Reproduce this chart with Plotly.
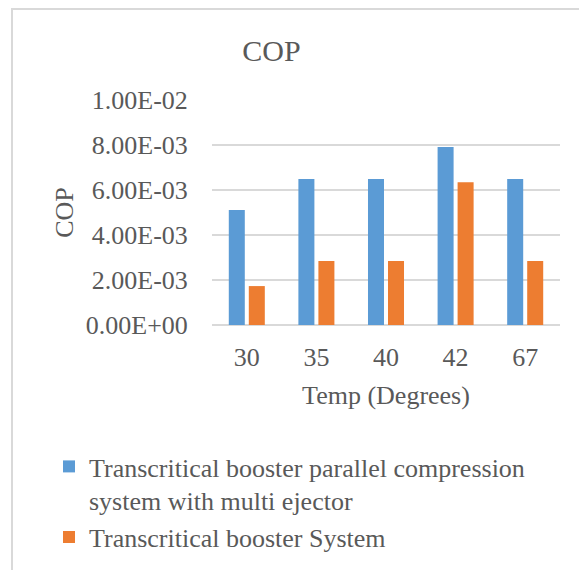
import plotly.graph_objects as go

# Temperatures on the category axis
temps = ["30", "35", "40", "42", "67"]

# COP values for the two refrigeration systems
cop_multi_ejector = [5.11e-3, 6.49e-3, 6.49e-3, 7.91e-3, 6.49e-3]
cop_booster = [1.73e-3, 2.84e-3, 2.84e-3, 6.35e-3, 2.84e-3]

series_names = [
    "Transcritical booster parallel compression<br>system with multi ejector",
    "Transcritical booster System",
]

# Y-axis ticks in engineering-style notation
y_tick_vals = [0, 0.002, 0.004, 0.006, 0.008, 0.010]
y_tick_text = ["0.00E+00", "2.00E-03", "4.00E-03", "6.00E-03", "8.00E-03", "1.00E-02"]

BLUE = "#5B9BD5"
ORANGE = "#ED7D31"
GREY_TEXT = "#595959"
GRID = "#D9D9D9"
FONT = "Liberation Serif"

W, H = 579, 570
L, R, T, B = 212, 19, 100, 245
pw, ph = W - L - R, H - T - B


def px_x(x):
    return (x - L) / pw


def px_y(y):
    return (H - B - y) / ph


fig = go.Figure()
fig.add_trace(go.Bar(x=temps, y=cop_multi_ejector, name=series_names[0],
                     marker=dict(color=BLUE, line=dict(width=0))))
fig.add_trace(go.Bar(x=temps, y=cop_booster, name=series_names[1],
                     marker=dict(color=ORANGE, line=dict(width=0))))

fig.update_layout(
    width=W, height=H,
    margin=dict(l=L, r=R, t=T, b=B, autoexpand=False),
    paper_bgcolor="white", plot_bgcolor="white",
    font=dict(family=FONT, size=26, color=GREY_TEXT),
    barmode="group", bargap=0.425, bargroupgap=0.2,
    title=dict(text="COP", x=271.5 / W, xanchor="center",
               y=1 - 50 / H, yanchor="middle",
               font=dict(family=FONT, size=30, color=GREY_TEXT)),
    showlegend=True,
    legend=dict(x=px_x(49), xanchor="left", y=px_y(443), yanchor="top",
                valign="top", tracegroupgap=4, traceorder="normal",
                font=dict(family=FONT, size=26, color=GREY_TEXT),
                bgcolor="rgba(0,0,0,0)"),
    xaxis=dict(type="category", showgrid=False, zeroline=False,
               showline=False, ticks="outside", ticklen=9,
               tickcolor="rgba(0,0,0,0)",
               title=dict(text="Temp (Degrees)", standoff=14,
                          font=dict(family=FONT, size=26, color=GREY_TEXT))),
    yaxis=dict(range=[0, 0.010], tickvals=y_tick_vals, ticktext=y_tick_text,
               showgrid=True, gridcolor=GRID, gridwidth=1.8,
               zeroline=True, zerolinecolor=GRID, zerolinewidth=1.8,
               showline=False, ticks="outside", ticklen=18,
               tickcolor="rgba(0,0,0,0)",
               title=dict(text="COP", standoff=4,
                          font=dict(family=FONT, size=26, color=GREY_TEXT))),
    shapes=[dict(type="rect", xref="paper", yref="paper",
                 x0=px_x(12), x1=px_x(W + 20), y0=px_y(H + 20), y1=px_y(9),
                 line=dict(color=GRID, width=2), fillcolor="rgba(0,0,0,0)",
                 layer="below")],
)

fig.write_html("out.html")
